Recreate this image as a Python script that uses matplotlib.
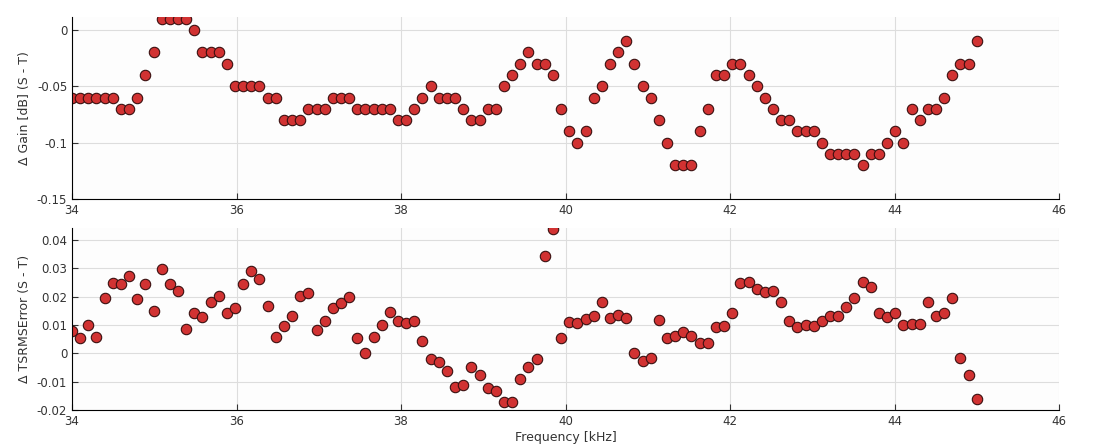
import numpy as np
import matplotlib.pyplot as plt

freq = np.linspace(34, 45, 112)

gain = [-0.06, -0.06, -0.06, -0.06, -0.06, -0.06, -0.07, -0.07, -0.06, -0.04,
        -0.02, 0.01, 0.01, 0.01, 0.01, 0.00, -0.02, -0.02, -0.02, -0.03,
        -0.05, -0.05, -0.05, -0.05, -0.06, -0.06, -0.08, -0.08, -0.08, -0.07,
        -0.07, -0.07, -0.06, -0.06, -0.06, -0.07, -0.07, -0.07, -0.07, -0.07,
        -0.08, -0.08, -0.07, -0.06, -0.05, -0.06, -0.06, -0.06, -0.07, -0.08,
        -0.08, -0.07, -0.07, -0.05, -0.04, -0.03, -0.02, -0.03, -0.03, -0.04,
        -0.07, -0.09, -0.10,
        -0.09, -0.06, -0.05, -0.03, -0.02, -0.01, -0.03, -0.05, -0.06, -0.08,
        -0.10, -0.12, -0.12, -0.12, -0.09, -0.07, -0.04, -0.04, -0.03, -0.03,
        -0.04, -0.05, -0.06, -0.07, -0.08, -0.08, -0.09, -0.09, -0.09, -0.10,
        -0.11, -0.11, -0.11, -0.11, -0.12, -0.11, -0.11, -0.10, -0.09, -0.10,
        -0.07, -0.08, -0.07, -0.07, -0.06, -0.04, -0.03, -0.03, -0.01]

tsrms = [0.0078, 0.0056, 0.0099, 0.0057, 0.0196, 0.0250, 0.0246, 0.0273, 0.0193, 0.0245,
         0.0151, 0.0298, 0.0244, 0.0222, 0.0085, 0.0144, 0.0127, 0.0182, 0.0201, 0.0144,
         0.0160, 0.0245, 0.0290, 0.0264, 0.0169, 0.0057, 0.0096, 0.0133, 0.0202, 0.0214,
         0.0082, 0.0114, 0.0160, 0.0177, 0.0198, 0.0054, 0.0003, 0.0058, 0.0099, 0.0145,
         0.0113, 0.0107, 0.0113, 0.0045, -0.0019, -0.0032, -0.0062, -0.0118, -0.0111, -0.0048,
         -0.0077, -0.0123, -0.0134, -0.0172, -0.0173, -0.0091, -0.0048, -0.0019, 0.0343, 0.0439,
         0.0056, 0.0110, 0.0106, 0.0123, 0.0133, 0.0182, 0.0126, 0.0137, 0.0125, 0.0000,
         -0.0028, -0.0016, 0.0117, 0.0056, 0.0061, 0.0077, 0.0060, 0.0037, 0.0037, 0.0095,
         0.0098, 0.0141, 0.0247, 0.0252, 0.0228, 0.0217, 0.0222, 0.0182, 0.0113, 0.0092,
         0.0102, 0.0096, 0.0116, 0.0133, 0.0133, 0.0165, 0.0197, 0.0252, 0.0235, 0.0142,
         0.0130, 0.0144, 0.0102, 0.0104, 0.0104, 0.0181, 0.0133, 0.0142, 0.0196, -0.0015,
         -0.0077, -0.0162]

fig = plt.figure(figsize=(11.19, 4.47), dpi=100)
ax1 = fig.add_axes([72/1119, 1 - 199/447, 987/1119, 182/447])
ax2 = fig.add_axes([72/1119, 1 - 410/447, 987/1119, 182/447])

for ax, y in [(ax1, gain), (ax2, tsrms)]:
    ax.plot(freq, y, 'o', color='#d13232', markeredgecolor='#3a1010',
            markeredgewidth=0.8, markersize=7.5)
    ax.set_xlim(34, 46)
    ax.set_xticks(range(34, 47, 2))
    ax.grid(True, color='#dddddd', linewidth=0.8)
    ax.set_axisbelow(True)
    ax.spines['top'].set_visible(False)
    ax.spines['right'].set_visible(False)
    ax.tick_params(labelsize=8.5, colors='#333333', length=4, direction='in')
    ax.set_facecolor('#fdfdfd')

ax1.set_ylim(-0.15, 0.0115)
ax1.set_yticks([-0.15, -0.1, -0.05, 0])
ax1.set_yticklabels(['-0.15', '-0.1', '-0.05', '0'])
ax1.set_ylabel('Δ Gain [dB] (S - T)', fontsize=9, color='#333333')

ax2.set_ylim(-0.02, 0.0443)
ax2.set_yticks([-0.02, -0.01, 0, 0.01, 0.02, 0.03, 0.04])
ax2.set_yticklabels(['-0.02', '-0.01', '0', '0.01', '0.02', '0.03', '0.04'])
ax2.set_ylabel('Δ TSRMSError (S - T)', fontsize=9, color='#333333')
ax2.set_xlabel('Frequency [kHz]', fontsize=9, color='#333333', labelpad=2)

fig.savefig('out.png', dpi=100)
